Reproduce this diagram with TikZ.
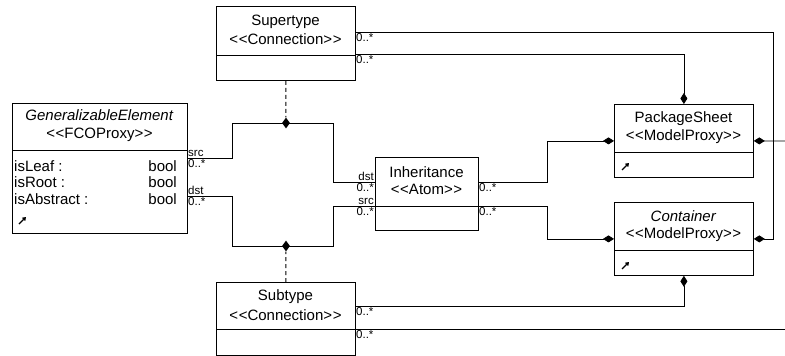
\documentclass[tikz,border=0pt]{standalone}
\usepackage{fontspec}
\setmainfont{Liberation Sans}
\usetikzlibrary{arrows.meta,shapes.geometric}
\newcommand{\stereo}[1]{<\kern0.6pt<#1>\kern0.6pt>}
\tikzset{
  cls/.style={draw, line width=0.8pt, inner sep=0pt, anchor=north west},
  lbl/.style={font=\fontsize{15}{17}\selectfont, inner sep=0pt},
  mult/.style={font=\fontsize{11.5}{12}\selectfont, inner sep=1pt},
  jn/.style={diamond, fill, inner sep=0pt, minimum width=8pt, minimum height=11pt},
  agg/.style={-{Diamond[length=11pt,width=7pt]}},
  icon/.style={-{Triangle[length=3.5pt,width=4.5pt]}, line width=1.3pt},
  conn/.style={line width=0.8pt},
  dsh/.style={line width=1pt, dash pattern=on 4pt off 3pt}
}
\begin{document}
\begin{tikzpicture}[x=1pt,y=-1pt]
      \useasboundingbox (0,0) rectangle (785,356);
      \node[cls, minimum width=175pt, minimum height=130pt] (ge) at (12,103) {};
      \node[lbl] (ge-t) at (99.5,115){\textit{GeneralizableElement}};
      \node[lbl] (ge-s) at (99.5,135){\stereo{FCOProxy}};
      \draw(12,150) to (187,150);
      \node[lbl, anchor=west] (ge-a1) at (14,166){isLeaf :};
      \node[lbl, anchor=west] (ge-a2) at (14,182){isRoot :};
      \node[lbl, anchor=west] (ge-a3) at (14,199){isAbstract :};
      \node[lbl, anchor=east] (ge-b1) at (177,166){bool};
      \node[lbl, anchor=east] (ge-b2) at (177,182){bool};
      \node[lbl, anchor=east] (ge-b3) at (177,199){bool};
      \draw[icon] (19,224) to (26,217);
      \node[cls, minimum width=139pt, minimum height=74pt] (st) at (216,6) {};
      \node[lbl] (st-t) at (285.5,22){Supertype};
      \node[lbl] (st-s) at (285.5,39){\stereo{Connection}};
      \draw(216,55) to (355,55);
      \node[cls, minimum width=139pt, minimum height=73pt] (sb) at (216,282) {};
      \node[lbl] (sb-t) at (285.5,297){Subtype};
      \node[lbl] (sb-s) at (285.5,315){\stereo{Connection}};
      \draw(216,329) to (355,329);
      \node[cls, minimum width=103pt, minimum height=73pt] (inh) at (375,157) {};
      \node[lbl] (inh-t) at (426.5,172){Inheritance};
      \node[lbl] (inh-s) at (426.5,189){\stereo{Atom}};
      \draw(375,206) to (478,206);
      \node[cls, minimum width=139pt, minimum height=73pt] (ps) at (614,104) {};
      \node[lbl] (ps-t) at (683.5,119){PackageSheet};
      \node[lbl] (ps-s) at (683.5,137){\stereo{ModelProxy}};
      \draw(614,152) to (753,152);
      \draw[icon] (622,170) to (629,163);
      \node[cls, minimum width=139pt, minimum height=73pt] (cn) at (614,202) {};
      \node[lbl] (cn-t) at (683.5,216){\textit{Container}};
      \node[lbl] (cn-s) at (683.5,235){\stereo{ModelProxy}};
      \draw(614,250) to (753,250);
      \draw[icon] (622,269) to (629,262);
      \coordinate (ge-src) at (187,158);
      \coordinate (ge-dst) at (187,196);
      \coordinate (inh-dst) at (375,182);
      \coordinate (inh-src) at (375,206);
      \coordinate (inh-o1) at (478,182);
      \coordinate (inh-o2) at (478,206);
      \coordinate (st-o1) at (355,32);
      \coordinate (st-o2) at (355,54);
      \coordinate (sb-o1) at (355,306);
      \coordinate (sb-o2) at (355,329);
      \coordinate (j1) at (232,123);
      \coordinate (j2) at (333,123);
      \coordinate (j3) at (232,246);
      \coordinate (j4) at (333,246);
      \coordinate (k1) at (547,182);
      \coordinate (k2) at (547,206);
      \coordinate (k3) at (773,32);
      \coordinate (e1) at (785,141);
      \coordinate (e2) at (785,329);
      \draw[conn] (ge-src) -| (j1) to (j2) |- (inh-dst);
      \draw[conn] (ge-dst) -| (j3) to (j4) |- (inh-src);
      \node[jn] (d1) at (286,123){};
      \node[jn] (d2) at (286,246){};
      \draw[dsh] (st.south) to (d1);
      \draw[dsh] (sb.north) to (d2);
      \draw[conn, agg] (inh-o1) to (k1) |- (ps.west);
      \draw[conn, agg] (inh-o2) to (k2) |- (cn.west);
      \draw[conn, agg] (st-o1) to (k3) |- (cn.east);
      \draw[conn, agg] (st-o2) -| (ps.north);
      \draw[conn, agg] (sb-o1) -| (cn.south);
      \draw[conn] (sb-o2) to (e2);
      \draw[conn, agg] (e1) to (ps.east);
      \node[mult, anchor=south west] (m1) at (ge-src){src};
      \node[mult, anchor=north west] (m2) at (ge-src){0..*};
      \node[mult, anchor=south west] (m3) at (ge-dst){dst};
      \node[mult, anchor=north west] (m4) at (ge-dst){0..*};
      \node[mult, anchor=south east] (m5) at (inh-dst){dst};
      \node[mult, anchor=north east] (m6) at (inh-dst){0..*};
      \node[mult, anchor=south east] (m7) at (inh-src){src};
      \node[mult, anchor=north east] (m8) at (inh-src){0..*};
      \node[mult, anchor=north west] (m9) at (inh-o1){0..*};
      \node[mult, anchor=north west] (m10) at (inh-o2){0..*};
      \node[mult, anchor=north west] (m11) at (st-o1){0..*};
      \node[mult, anchor=north west] (m12) at (st-o2){0..*};
      \node[mult, anchor=north west] (m13) at (sb-o1){0..*};
      \node[mult, anchor=north west] (m14) at (sb-o2){0..*};
    \end{tikzpicture}
\end{document}
